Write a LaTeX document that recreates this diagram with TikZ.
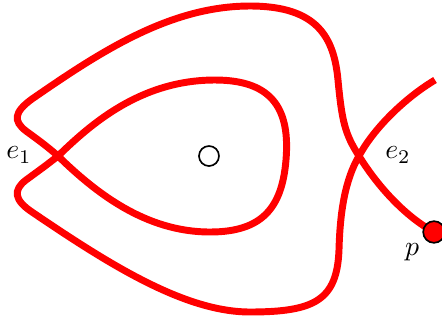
\documentclass[tikz,border=0pt]{standalone}
\begin{document}
\begin{tikzpicture}[x=0.36pt,y=-0.36pt,
  curve/.style={draw=red,line width=2.5pt},
  hole/.style={circle,draw=black,fill=white,line width=0.6pt,minimum size=7.2pt,inner sep=0pt},
  endpt/.style={circle,draw=black,fill=red,line width=0.6pt,minimum size=7.8pt,inner sep=0pt},
  lbl/.style={inner sep=1pt}]
\useasboundingbox (0,0) rectangle (442,322);
\coordinate (T) at (435,80);
\coordinate (E2) at (359,156);
\coordinate (E1) at (58,156);
\coordinate (P) at (434,232);
\draw[curve] (T) .. controls (405,98) and (374,128) .. (E2)
  .. controls (345,180) and (340,212) .. (339,250)
  .. controls (337,300) and (315,312) .. (250,312)
  .. controls (185,312) and (110,265) .. (32,212)
  .. controls (14,200) and (13,190) .. (26,180)
  .. controls (37,172) and (48,164) .. (E1)
  .. controls (90,125) and (140,80) .. (215,80)
  .. controls (275,80) and (290,112) .. (286,160)
  .. controls (282,208) and (262,232) .. (210,232)
  .. controls (145,232) and (95,192) .. (E1)
  .. controls (48,147) and (37,139) .. (26,131)
  .. controls (13,121) and (14,112) .. (32,99)
  .. controls (100,52) and (170,6) .. (250,6)
  .. controls (318,6) and (334,38) .. (338,80)
  .. controls (342,122) and (345,134) .. (E2)
  .. controls (380,190) and (408,218) .. (P);
\node[hole] (c) at (209,156) {};
\node[endpt] (p) at (P) {};
\node[lbl] (l1) at (19,155) {$e_1$};
\node[lbl] (l2) at (398,155) {$e_2$};
\node[lbl] (lp) at (412,252) {$p$};
\end{tikzpicture}
\end{document}
